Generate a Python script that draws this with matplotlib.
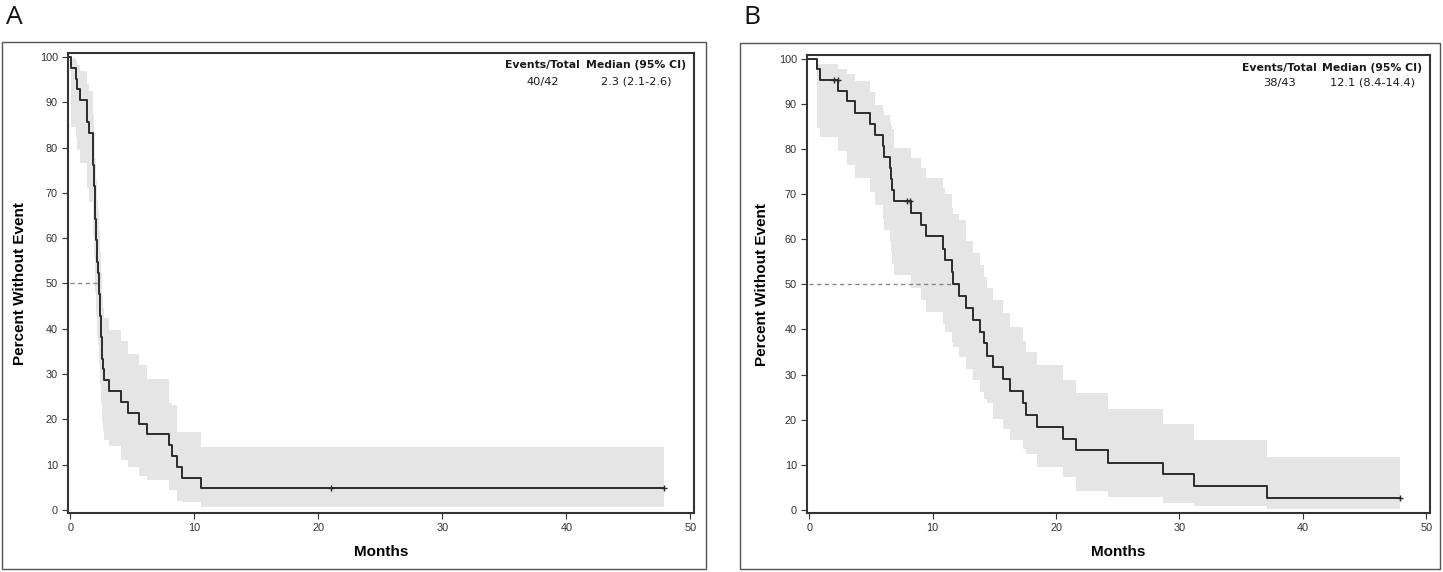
import numpy as np
import matplotlib
matplotlib.use("Agg")
import matplotlib.pyplot as plt
from matplotlib.patches import Rectangle

plt.rcParams['font.family'] = ['Liberation Sans', 'DejaVu Sans']

# ---- panel A : step times (months), survival %, 95% CI lower / upper
time_a = [0, 0.05, 0.46, 0.54, 0.76, 1.36, 1.50, 1.85,
          1.88, 1.91, 1.94, 1.97, 1.99, 2.02, 2.05, 2.08, 2.13, 2.18,
          2.23, 2.30, 2.34, 2.38, 2.42, 2.46, 2.50, 2.54, 2.58, 2.63,
          2.72, 3.13, 4.09, 4.69, 5.58, 6.18, 7.98, 8.18, 8.64, 8.99, 10.55]
surv_a = [100, 97.6, 95.2, 92.9, 90.5, 85.7, 83.3, 78.6,
          76.2, 73.8, 71.4, 69.0, 66.7, 64.3, 61.9, 59.5, 57.1, 54.8,
          52.4, 50.0, 47.6, 45.2, 42.9, 40.5, 38.1, 35.7, 33.3, 31.0,
          28.6, 26.2, 23.8, 21.4, 19.0, 16.7, 14.3, 11.9, 9.5, 7.1, 4.8]
low_a = [100, 84.5, 82.0, 79.5, 76.5, 71.0, 68.0, 63.0,
         60.5, 58.0, 55.5, 53.0, 50.5, 48.0, 45.5, 43.0, 41.0, 38.5,
         36.5, 34.0, 32.0, 30.0, 27.5, 25.5, 23.5, 21.5, 19.5, 17.5,
         15.5, 14.0, 11.0, 9.5, 7.5, 6.5, 4.5, 4.3, 2.0, 1.8, 0.6]
upp_a = [100, 99.7, 99.3, 98.3, 97.0, 94.0, 92.5, 89.0,
         87.5, 85.5, 83.5, 81.5, 79.5, 77.5, 75.5, 73.0, 71.0, 68.5,
         66.5, 64.0, 61.5, 59.5, 57.0, 54.5, 52.0, 49.5, 47.0, 44.5,
         42.3, 39.7, 37.3, 34.5, 31.9, 29.0, 23.5, 23.1, 17.2, 17.2, 13.9]
end_a = 47.9
cens_a = [21.0, 47.9]
median_a = 2.3
events_a = "40/42"
median_txt_a = "2.3 (2.1-2.6)"

# ---- panel B
time_b = [0, 0.63, 0.87, 2.36, 3.07, 3.75, 4.95, 5.35, 5.98, 6.03, 6.52,
          6.60, 6.70, 6.87, 8.29, 9.10, 9.43, 10.87, 11.00, 11.55, 11.68,
          12.10, 12.70, 13.26, 13.86, 14.13, 14.40, 14.86, 15.70, 16.25,
          17.34, 17.58, 18.42, 20.55, 21.60, 24.20, 28.70, 31.15, 37.10]
surv_b = [100, 97.7, 95.3, 92.9, 90.5, 88.0, 85.6, 83.1, 80.7, 78.2, 75.8,
          73.3, 70.9, 68.5, 65.8, 63.2, 60.6, 57.9, 55.3, 52.7, 50.0,
          47.4, 44.8, 42.1, 39.5, 36.9, 34.2, 31.6, 29.0, 26.3,
          23.7, 21.1, 18.4, 15.8, 13.2, 10.5, 7.9, 5.3, 2.6]
low_b = [100, 84.7, 82.7, 79.5, 76.5, 73.6, 70.5, 67.5, 64.5, 62.0, 59.5,
         57.0, 54.5, 52.1, 49.1, 46.5, 43.9, 41.3, 39.5, 37.0, 36.1,
         33.9, 31.3, 28.7, 26.1, 24.5, 23.6, 20.2, 18.0, 15.4,
         13.5, 12.4, 9.5, 7.2, 4.3, 2.8, 1.5, 0.8, 0.2]
upp_b = [100, 98.9, 98.7, 97.6, 96.5, 95.0, 92.5, 89.8, 88.5, 87.6, 86.0,
         85.0, 84.3, 80.2, 78.0, 75.8, 73.6, 71.3, 70.0, 66.9, 65.5,
         64.3, 59.5, 56.9, 54.3, 51.7, 49.1, 46.5, 43.6, 40.6,
         37.5, 35.0, 32.1, 28.7, 25.8, 22.4, 19.1, 15.4, 11.7]
end_b = 47.9
cens_b = [2.0, 2.3, 7.96, 8.15, 47.9]
median_b = 12.1
events_b = "38/43"
median_txt_b = "12.1 (8.4-14.4)"

W, H = 1443, 572
fig = plt.figure(figsize=(W / 100, H / 100), dpi=100)


def km_panel(rect, box, letter, letter_x, t, s, lo, hi, t_end, cens, med,
             ev_txt, med_txt, head_y, row_y, ylpad):
    # outer frame around each panel
    fig.add_artist(Rectangle((box[0] / W, 1 - box[3] / H),
                             (box[2] - box[0]) / W, (box[3] - box[1]) / H,
                             transform=fig.transFigure, fill=False,
                             edgecolor='#555555', linewidth=1.0))
    fig.text(letter_x / W, 1 - 17 / H, letter, fontsize=19, family='Open Sans',
             ha='center', va='center', color='#111111')

    ax = fig.add_axes(rect)
    tt = np.append(t, t_end)
    ss = np.append(s, s[-1])
    ll = np.append(lo, lo[-1])
    hh = np.append(hi, hi[-1])
    ax.fill_between(tt, ll, hh, step='post', color='#e5e5e5', linewidth=0)
    ax.plot([0, med], [50, 50], color='#888888', linestyle=(0, (3, 2.5)),
            linewidth=1.0)
    ax.step(tt, ss, where='post', color='#2b2b2b', linewidth=1.4)
    cy = [ss[np.searchsorted(tt, c, side='right') - 1] for c in cens]
    ax.plot(cens, cy, linestyle='none', marker='+', markersize=4,
            markeredgewidth=1.0, color='#2b2b2b')

    ax.set_xlim(-0.2, 50.3)
    ax.set_ylim(-0.75, 100.8)
    ax.set_xticks(range(0, 51, 10))
    ax.set_yticks(range(0, 101, 10))
    ax.tick_params(labelsize=7.8, labelcolor='#333333', length=4, width=0.8,
                   color='#333333', pad=3)
    for sp in ax.spines.values():
        sp.set_linewidth(1.5)
        sp.set_color('#333333')
    ax.set_xlabel('Months', fontsize=11, fontweight='bold', labelpad=8.5)
    ax.set_ylabel('Percent Without Event', fontsize=11, fontweight='bold',
                  labelpad=ylpad)

    hd = dict(transform=ax.transAxes, family='DejaVu Sans', ha='center',
              va='center', color='#1a1a1a')
    ax.text(0.758, head_y, 'Events/Total', fontsize=7.8, fontweight='bold', **hd)
    ax.text(0.907, head_y, 'Median (95% CI)', fontsize=7.8, fontweight='bold', **hd)
    ax.text(0.758, row_y, ev_txt, fontsize=8.2, **hd)
    ax.text(0.907, row_y, med_txt, fontsize=8.2, **hd)
    return ax


km_panel([67.7 / W, 1 - 513.3 / H, 626.3 / W, 460 / H],
         (1.7, 41.7, 705.7, 569), 'A', 14,
         time_a, surv_a, low_a, upp_a, end_a, cens_a, median_a,
         events_a, median_txt_a, 0.975, 0.938, 9)
km_panel([806.7 / W, 1 - 513.3 / H, 623.3 / W, 458.3 / H],
         (740, 43, 1440, 569), 'B', 752,
         time_b, surv_b, low_b, upp_b, end_b, cens_b, median_b,
         events_b, median_txt_b, 0.972, 0.939, 7)

fig.savefig('out.png', dpi=100)
